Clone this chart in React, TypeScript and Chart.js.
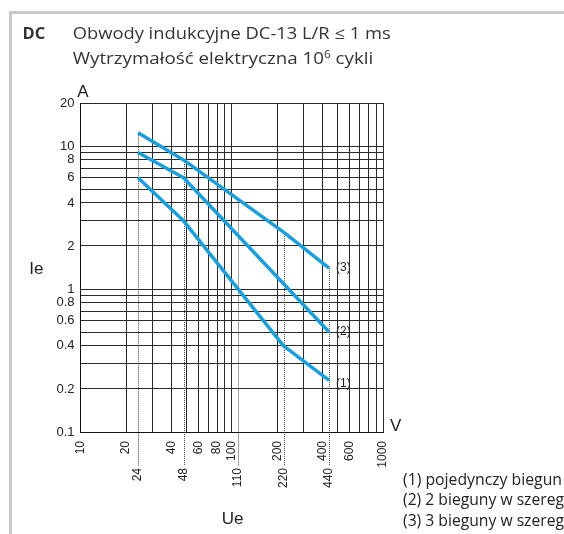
import React, { useEffect, useRef } from 'react';
import { Chart, registerables } from 'chart.js';

Chart.register(...registerables);

// ---- data ----
const voltages1 = [24, 48, 220, 440];
const currents1 = [6, 3, 0.4, 0.23];
const voltages2 = [24, 48, 440];
const currents2 = [9, 6, 0.5];
const voltages3 = [24, 48, 220, 440];
const currents3 = [12.4, 8, 2.5, 1.4];
const seriesLabels = ['(1)', '(2)', '(3)'];

const xGridValues = [10, 20, 30, 40, 50, 60, 70, 80, 90, 100, 200, 300, 400, 500, 600, 700, 800, 900, 1000];
const yGridValues = [0.1, 0.2, 0.3, 0.4, 0.5, 0.6, 0.7, 0.8, 0.9, 1, 2, 3, 4, 5, 6, 7, 8, 9, 10, 20];
const xTickLabels = [10, 20, 40, 60, 80, 100, 200, 400, 600, 1000];
const yTickLabels = [0.1, 0.2, 0.4, 0.6, 0.8, 1, 2, 4, 6, 8, 10, 20];
const ratedVoltages = [24, 48, 110, 220, 440];
const ratedTops = [12.4, 8, 4.3, 2.5, 1.4];

const titleTag = 'DC';
const titleLine1 = 'Obwody indukcyjne DC-13 L/R ≤ 1 ms';
const titleLine2a = 'Wytrzymałość elektryczna 10';
const titleLine2sup = '6';
const titleLine2b = ' cykli';
const legendLines = ['(1) pojedynczy biegun', '(2) 2 bieguny w szereg', '(3) 3 bieguny w szereg'];

const CURVE = '#1b9fdb';
const GRID = '#2a2a2a';
const TICKFONT = '"Liberation Sans", Arial, sans-serif';

const overlayPlugin = {
  id: 'overlay',
  beforeDatasetsDraw(chart: any) {
    const { ctx, scales } = chart;
    const x = scales.x, y = scales.y;
    ctx.save();
    ctx.strokeStyle = '#444';
    ctx.lineWidth = 1;
    ctx.setLineDash([1, 1]);
    ratedVoltages.forEach((v, i) => {
      const px = Math.round(x.getPixelForValue(v)) + 0.5;
      ctx.beginPath();
      ctx.moveTo(px, y.getPixelForValue(ratedTops[i]));
      ctx.lineTo(px, 466);
      ctx.stroke();
    });
    ctx.restore();
  },
  afterDraw(chart: any) {
    const { ctx, scales } = chart;
    const x = scales.x;
    ctx.save();
    ctx.fillStyle = '#222';
    ctx.font = '12px ' + TICKFONT;
    ratedVoltages.forEach((v) => {
      const px = x.getPixelForValue(v);
      ctx.save();
      ctx.translate(px, 468);
      ctx.rotate(-Math.PI / 2);
      ctx.textAlign = 'right';
      ctx.textBaseline = 'middle';
      ctx.fillText(String(v), 0, 0);
      ctx.restore();
    });
    ctx.textAlign = 'left';
    ctx.textBaseline = 'middle';
    chart.data.datasets.forEach((_ds: any, i: number) => {
      const meta = chart.getDatasetMeta(i);
      const last = meta.data[meta.data.length - 1];
      ctx.fillText(seriesLabels[i], last.x + 7, last.y + (i === 0 ? 3 : 0));
    });
    ctx.restore();
  },
};

function toPoints(xs: number[], ys: number[]) {
  return xs.map((v, i) => ({ x: v, y: ys[i] }));
}

export default function App() {
  const ref = useRef<HTMLCanvasElement>(null);
  useEffect(() => {
    if (!ref.current) return;
    const ds = (xs: number[], ys: number[]) => ({
      data: toPoints(xs, ys),
      borderColor: CURVE,
      borderWidth: 3.5,
      pointRadius: 0,
      tension: 0,
      fill: false,
      borderCapStyle: 'butt' as const,
      borderJoinStyle: 'round' as const,
    });
    const chart = new Chart(ref.current, {
      type: 'line',
      data: { datasets: [ds(voltages1, currents1), ds(voltages2, currents2), ds(voltages3, currents3)] },
      options: {
        animation: false,
        responsive: false,
        devicePixelRatio: 1,
        layout: { padding: { left: 0, top: 103, right: 181, bottom: 0 } },
        plugins: { legend: { display: false }, tooltip: { enabled: false }, title: { display: false } },
        scales: {
          x: {
            type: 'logarithmic',
            min: 10,
            max: 1000,
            afterBuildTicks: (s: any) => { s.ticks = xGridValues.map((v) => ({ value: v })); },
            afterFit: (s: any) => { s.height = 102; },
            grid: { color: GRID, lineWidth: 1, drawTicks: false },
            border: { display: true, color: '#111', width: 1 },
            ticks: {
              autoSkip: false,
              minRotation: 90,
              maxRotation: 90,
              padding: 9,
              color: '#222',
              font: { family: TICKFONT, size: 12 },
              callback: (v: any) => (xTickLabels.includes(Number(v)) ? String(v) : ''),
            },
          },
          y: {
            type: 'logarithmic',
            min: 0.1,
            max: 20,
            afterBuildTicks: (s: any) => { s.ticks = yGridValues.map((v) => ({ value: v })); },
            afterFit: (s: any) => { s.width = 80.5; },
            grid: { color: GRID, lineWidth: 1, drawTicks: false },
            border: { display: true, color: '#111', width: 1 },
            ticks: {
              autoSkip: false,
              padding: 6,
              color: '#222',
              font: { family: TICKFONT, size: 13 },
              callback: (v: any) => {
                const n = Number(Number(v).toPrecision(3));
                return yTickLabels.some((t) => Math.abs(t - n) < 1e-9) ? String(n) : '';
              },
            },
          },
        },
      },
      plugins: [overlayPlugin],
    } as any);
    return () => chart.destroy();
  }, []);

  const sans = '"Open Sans", "Noto Sans", sans-serif';
  const arial = '"Liberation Sans", Arial, sans-serif';
  return (
    <div style={{ position: 'absolute', left: 0, top: 0, width: 564, height: 534, overflow: 'hidden', background: '#fff' }}>
      <div style={{ position: 'absolute', left: 8.5, top: 11, width: 600, height: 600, borderLeft: '3px solid #c9c9c9', borderTop: '3px solid #c9c9c9' }} />
      <canvas ref={ref} width={564} height={534} style={{ position: 'absolute', left: 0, top: 0, width: 564, height: 534 }} />
      <svg width={564} height={534} style={{ position: 'absolute', left: 0, top: 0, pointerEvents: 'none' }}>
        <text x={22.5} y={38.5} style={{ fontFamily: '"Open Sans", "Noto Sans", sans-serif', fontWeight: 700, fontSize: '16.5px' }} fill="#333">{titleTag}</text>
        <text x={72.7} y={38.5} fontFamily={sans} fontSize={16} fill="#333" textLength={318} lengthAdjust="spacingAndGlyphs">{titleLine1}</text>
        <text x={72.7} y={64.3} fontFamily={sans} fontSize={16} fill="#333" textLength={300.6} lengthAdjust="spacingAndGlyphs">
          {titleLine2a}
          <tspan fontSize={10} dy={-6}>{titleLine2sup}</tspan>
          <tspan dy={6}>{titleLine2b}</tspan>
        </text>
        <text x={77.3} y={97.3} fontFamily={arial} fontSize={17} fill="#222">A</text>
        <text x={390} y={431} fontFamily={arial} fontSize={17} fill="#222">V</text>
        <text x={29.3} y={274} fontFamily={arial} fontSize={17} fill="#222">Ie</text>
        <text x={221.7} y={523.7} fontFamily={arial} fontSize={17} fill="#222">Ue</text>
        {legendLines.map((t, i) => (
          <text key={i} x={403} y={485 + i * 20.3} fontFamily={sans} fontSize={16} fill="#222" textLength={[159, 161, 161][i]} lengthAdjust="spacingAndGlyphs">{t}</text>
        ))}
      </svg>
    </div>
  );
}
